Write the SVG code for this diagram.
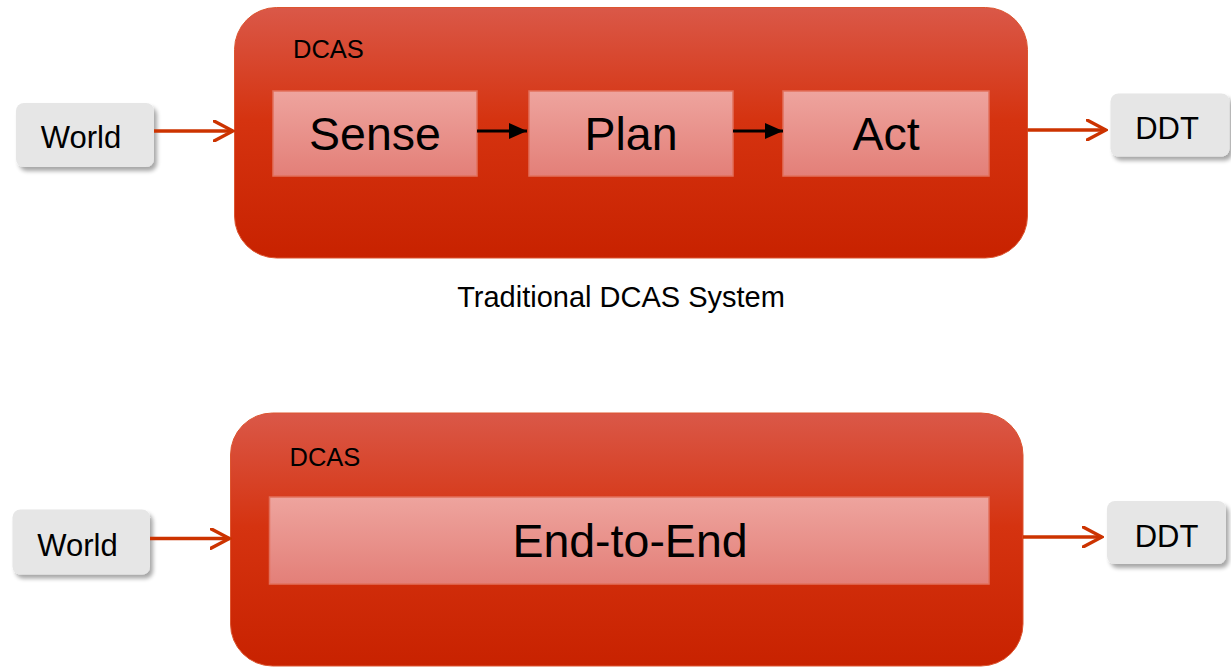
<svg xmlns="http://www.w3.org/2000/svg" width="1231" height="667" viewBox="0 0 1231 667">
  <defs>
    <linearGradient id="dcasFill" x1="0" y1="0" x2="0" y2="1">
      <stop offset="0" stop-color="#da5848"/>
      <stop offset="0.45" stop-color="#d53310"/>
      <stop offset="1" stop-color="#c82200"/>
    </linearGradient>
    <linearGradient id="stageFill" x1="0" y1="0" x2="0" y2="1">
      <stop offset="0" stop-color="#eea49e"/>
      <stop offset="1" stop-color="#e37f78"/>
    </linearGradient>
    <filter id="shadow" x="-10%" y="-10%" width="130%" height="140%">
      <feGaussianBlur in="SourceAlpha" stdDeviation="2"/>
      <feOffset dx="3" dy="4" result="off"/>
      <feComponentTransfer><feFuncA type="linear" slope="0.35"/></feComponentTransfer>
      <feMerge><feMergeNode/><feMergeNode in="SourceGraphic"/></feMerge>
    </filter>
    <marker id="open" viewBox="0 0 22 22" refX="20" refY="11" markerUnits="userSpaceOnUse" markerWidth="22" markerHeight="22" orient="auto">
      <path d="M1,1 L20,11 L1,21" fill="none" stroke="#cc3300" stroke-width="3.4" stroke-linecap="round" stroke-linejoin="miter"/>
    </marker>
    <marker id="solid" viewBox="0 0 18 18" refX="18" refY="9" markerUnits="userSpaceOnUse" markerWidth="18" markerHeight="18" orient="auto">
      <path d="M0,1 L18,9 L0,17 Z" fill="#000"/>
    </marker>
  </defs>
  <style>
    text { font-family: "Liberation Sans", Arial, sans-serif; fill: #000; }
    .io { fill: #e6e6e6; filter: url(#shadow); }
    .io-label { font-size: 31px; text-anchor: middle; }
    .box { fill: url(#dcasFill); stroke: #dc5530; stroke-width: 1; }
    .box-label { font-size: 25.5px; }
    .stage { fill: url(#stageFill); stroke: #e2705c; stroke-width: 1.5; }
    .stage-label { font-size: 46.5px; text-anchor: middle; }
    .caption { font-size: 29px; text-anchor: middle; }
    .flow { stroke: #cc3300; stroke-width: 3.3; fill: none; marker-end: url(#open); }
    .step { stroke: #000; stroke-width: 3.2; fill: none; marker-end: url(#solid); }
  </style>

  <!-- Traditional pipeline -->
  <g id="dcas-top">
    <rect class="box" x="234.5" y="7.5" width="793" height="250.5" rx="42" ry="42"/>
    <text class="box-label" x="293" y="57.5">DCAS</text>
  </g>
  <g id="sense">
    <rect class="stage" x="273" y="91" width="204" height="85"/>
    <text class="stage-label" x="375" y="149.5">Sense</text>
  </g>
  <g id="plan">
    <rect class="stage" x="529" y="91" width="204" height="85"/>
    <text class="stage-label" x="631" y="149.5">Plan</text>
  </g>
  <g id="act">
    <rect class="stage" x="783" y="91" width="206" height="85"/>
    <text class="stage-label" x="886" y="149.5">Act</text>
  </g>
  <g id="world-top">
    <rect class="io" x="16" y="103" width="138" height="64" rx="8" ry="8"/>
    <text class="io-label" x="81" y="148">World</text>
  </g>
  <g id="ddt-top">
    <rect class="io" x="1110.5" y="93.5" width="119" height="63" rx="8" ry="8"/>
    <text class="io-label" x="1167" y="139">DDT</text>
  </g>
  <text class="caption" x="621" y="306.5">Traditional DCAS System</text>

  <!-- End-to-end pipeline -->
  <g id="dcas-bottom">
    <rect class="box" x="230.5" y="413" width="792.5" height="253" rx="42" ry="42"/>
    <text class="box-label" x="289.5" y="465.5">DCAS</text>
  </g>
  <g id="end-to-end">
    <rect class="stage" x="269.5" y="497" width="719.5" height="87"/>
    <text class="stage-label" x="630" y="556.5">End-to-End</text>
  </g>
  <g id="world-bottom">
    <rect class="io" x="12.5" y="509.5" width="137.5" height="65" rx="8" ry="8"/>
    <text class="io-label" x="77.5" y="556">World</text>
  </g>
  <g id="ddt-bottom">
    <rect class="io" x="1107" y="501" width="119" height="63" rx="8" ry="8"/>
    <text class="io-label" x="1166.5" y="546.5">DDT</text>
  </g>

  <g id="connectors">
    <line class="flow" x1="154" y1="131" x2="233" y2="131"/>
    <line class="step" x1="477" y1="131" x2="527" y2="131"/>
    <line class="step" x1="733" y1="131" x2="783" y2="131"/>
    <line class="flow" x1="1027.5" y1="130" x2="1106" y2="130"/>
    <line class="flow" x1="150" y1="538.5" x2="229.5" y2="538.5"/>
    <line class="flow" x1="1023" y1="537" x2="1102" y2="537"/>
  </g>
</svg>
